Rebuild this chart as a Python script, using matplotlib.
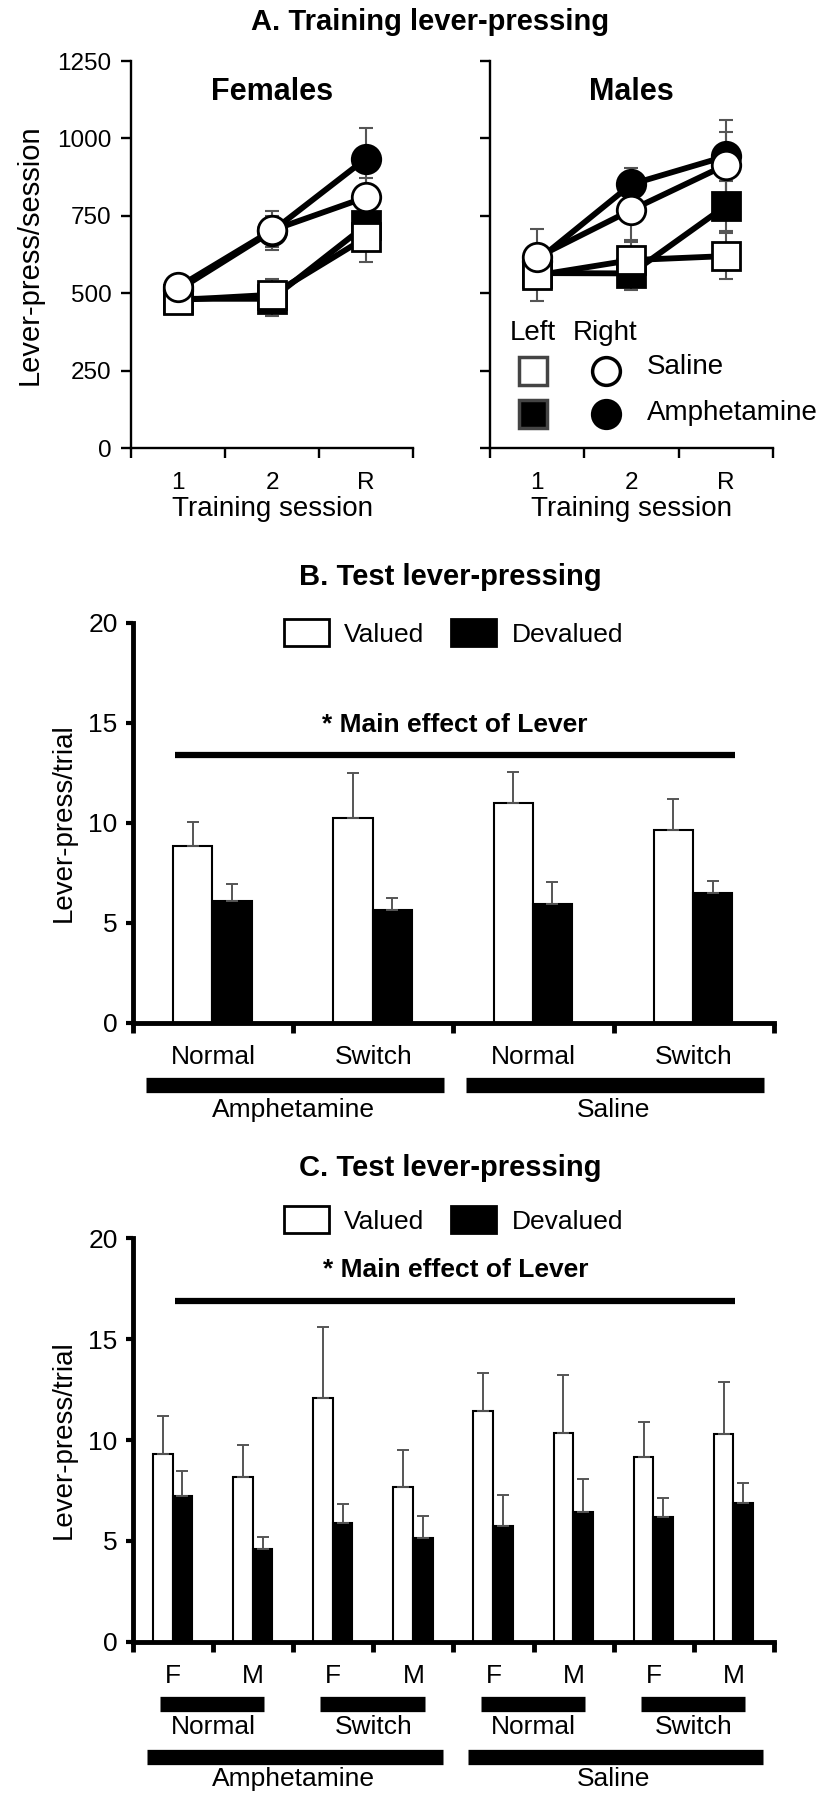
import matplotlib
matplotlib.use('Agg')
from matplotlib import pyplot as plt
from matplotlib.patches import Patch
import numpy as np

plt.rcParams['font.family'] = ['Liberation Sans', 'DejaVu Sans']

# ---- Panel A: training lever-pressing ----
sessions = ['1', '2', 'R']

fem_sal_right = [520, 703, 810]
fem_sal_right_sem = [35, 62, 62]
fem_amph_right = [510, 700, 935]
fem_amph_right_sem = [30, 50, 100]
fem_sal_left = [478, 495, 680]
fem_sal_left_sem = [25, 50, 78]
fem_amph_left = [482, 482, 720]
fem_amph_left_sem = [25, 55, 60]

male_sal_right = [616, 769, 914]
male_sal_right_sem = [93, 97, 108]
male_amph_right = [605, 852, 942]
male_amph_right_sem = [40, 51, 118]
male_sal_left = [558, 607, 620]
male_sal_left_sem = [83, 60, 75]
male_amph_left = [565, 564, 782]
male_amph_left_sem = [40, 54, 82]

# ---- Panel B: test lever-pressing by group ----
b_groups = ['Normal', 'Switch', 'Normal', 'Switch']
b_drugs = ['Amphetamine', 'Saline']
b_valued = [8.85, 10.25, 11.0, 9.67]
b_valued_sem = [1.2, 2.25, 1.53, 1.55]
b_devalued = [6.1, 5.63, 5.97, 6.5]
b_devalued_sem = [0.83, 0.64, 1.06, 0.58]

# ---- Panel C: test lever-pressing by group and sex ----
c_sex = ['F', 'M', 'F', 'M', 'F', 'M', 'F', 'M']
c_groups = ['Normal', 'Switch', 'Normal', 'Switch']
c_drugs = ['Amphetamine', 'Saline']
c_valued = [9.33, 8.17, 12.07, 7.65, 11.43, 10.34, 9.15, 10.31]
c_valued_sem = [1.87, 1.58, 3.53, 1.85, 1.87, 2.89, 1.75, 2.57]
c_devalued = [7.23, 4.62, 5.9, 5.16, 5.72, 6.42, 6.18, 6.88]
c_devalued_sem = [1.22, 0.56, 0.94, 1.09, 1.56, 1.63, 0.94, 0.98]

ERR = '#555555'


def training_panel(ax, series, title, show_labels):
    x = np.arange(1, len(sessions) + 1)
    z = 3
    for vals, sem, marker, face in series:
        ax.errorbar(x, vals, yerr=sem, fmt='none', ecolor=ERR, elinewidth=1.5,
                    capsize=5, capthick=1.5, zorder=1)
        ax.plot(x, vals, color='black', lw=4.2, zorder=z)
        ax.plot(x, vals, linestyle='none', marker=marker, ms=20.5, mfc=face,
                mec='black', mew=2, zorder=z + 1)
        z += 2
    ax.set_xlim(0.5, 3.5)
    ax.set_ylim(0, 1250)
    ax.set_yticks([0, 250, 500, 750, 1000, 1250])
    ax.set_xticks([0.5, 1.5, 2.5, 3.5])
    ax.set_xticklabels([])
    ax.set_xticks(x, minor=True)
    ax.set_xticklabels(sessions, minor=True)
    ax.tick_params(axis='x', which='minor', length=0, pad=17, labelsize=17.5)
    ax.tick_params(axis='both', which='major', length=7, width=1.7, labelsize=17.5)
    ax.tick_params(axis='y', pad=7)
    if not show_labels:
        ax.set_yticklabels([])
    for s in ['top', 'right']:
        ax.spines[s].set_visible(False)
    for s in ['left', 'bottom']:
        ax.spines[s].set_linewidth(1.7)
    ax.set_xlabel('Training session', fontsize=20, labelpad=2)
    ax.text(0.5, 0.92, title, transform=ax.transAxes, ha='center', va='center',
            fontsize=22, fontweight='bold')


def bar_panel(ax, valued, vsem, deval, dsem, line_y, line_x):
    n = len(valued)
    x = np.arange(n)
    ekw = dict(ecolor=ERR, elinewidth=1.4, capsize=4, capthick=1.4)
    ax.bar(x + 0.3725, valued, 0.245, color='white', edgecolor='black', lw=1.5,
           yerr=[np.zeros(n), vsem], error_kw=ekw)
    ax.bar(x + 0.6175, deval, 0.245, color='black', edgecolor='black', lw=1.5,
           yerr=[np.zeros(n), dsem], error_kw=ekw)
    ax.set_xlim(0, n)
    ax.set_ylim(0, 20)
    ax.set_yticks([0, 5, 10, 15, 20])
    ax.set_xticks(np.arange(n + 1))
    ax.set_xticklabels([])
    ax.tick_params(axis='x', length=7, width=3.5)
    ax.tick_params(axis='y', length=5, width=3, labelsize=19, pad=6)
    for s in ['top', 'right']:
        ax.spines[s].set_visible(False)
    for s in ['left', 'bottom']:
        ax.spines[s].set_linewidth(3.5)
    ax.set_ylabel('Lever-press/trial', fontsize=20, labelpad=8)
    # significance line
    ax.plot(line_x, [line_y, line_y], color='black', lw=4.5, solid_capstyle='butt')
    ax.text(np.mean(line_x), line_y + 1.5, '* Main effect of Lever', ha='center',
            va='center', fontsize=19, fontweight='bold')
    handles = [Patch(facecolor='white', edgecolor='black', lw=2, label='Valued'),
               Patch(facecolor='black', edgecolor='black', lw=2, label='Devalued')]
    return handles


fig = plt.figure(figsize=(8.27, 18), dpi=100)

axA1 = fig.add_axes([0.1584, 0.7511, 0.341, 0.215])
axA2 = fig.add_axes([0.5925, 0.7511, 0.342, 0.215])
axB = fig.add_axes([0.1608, 0.4317, 0.775, 0.2222])
axC = fig.add_axes([0.1608, 0.0878, 0.775, 0.2244])

training_panel(axA1, [
    (fem_amph_left, fem_amph_left_sem, 's', 'black'),
    (fem_amph_right, fem_amph_right_sem, 'o', 'black'),
    (fem_sal_left, fem_sal_left_sem, 's', 'white'),
    (fem_sal_right, fem_sal_right_sem, 'o', 'white'),
], 'Females', True)
axA1.set_ylabel('Lever-press/session', fontsize=21, labelpad=10)

training_panel(axA2, [
    (male_amph_left, male_amph_left_sem, 's', 'black'),
    (male_amph_right, male_amph_right_sem, 'o', 'black'),
    (male_sal_left, male_sal_left_sem, 's', 'white'),
    (male_sal_right, male_sal_right_sem, 'o', 'white'),
], 'Males', False)

# hand-made legend inside the male panel
axA2.text(0.95, 372, 'Left', ha='center', va='center', fontsize=20)
axA2.text(1.72, 372, 'Right', ha='center', va='center', fontsize=20)
axA2.plot([0.956], [250], marker='s', ms=20, mfc='white', mec='#444444', mew=2.5)
axA2.plot([1.73], [250], marker='o', ms=20, mfc='white', mec='black', mew=2.5)
axA2.plot([0.956], [110], marker='s', ms=20, mfc='black', mec='#444444', mew=2.5)
axA2.plot([1.73], [110], marker='o', ms=20, mfc='black', mec='black', mew=2.5)
axA2.text(2.16, 262, 'Saline', ha='left', va='center', fontsize=20)
axA2.text(2.16, 112, 'Amphetamine', ha='left', va='center', fontsize=20, clip_on=False)

fig.text(0.52, 1 - 22 / 1800, 'A. Training lever-pressing', ha='center', va='center',
         fontsize=21, fontweight='bold')

# ---- B ----
hB = bar_panel(axB, b_valued, b_valued_sem, b_devalued, b_devalued_sem,
               13.4, [0.26, 3.76])
axB.legend(handles=hB, loc='center', bbox_to_anchor=(0.5, 0.975), ncol=2, frameon=False,
           fontsize=19, handlelength=1.7, handleheight=1.2, handletextpad=0.6,
           columnspacing=1.0)
trB = axB.get_xaxis_transform()
for i, g in enumerate(b_groups):
    axB.text(i + 0.5, -0.085, g, transform=trB, ha='center', va='center', fontsize=19)
for j, d in enumerate(b_drugs):
    axB.plot([2 * j + 0.08, 2 * j + 1.94], [-0.155, -0.155], transform=trB, color='black',
             lw=11, solid_capstyle='butt', clip_on=False)
    axB.text(2 * j + 1.0, -0.218, d, transform=trB, ha='center', va='center', fontsize=19)
fig.text(0.545, 1 - 577 / 1800, 'B. Test lever-pressing', ha='center', va='center',
         fontsize=21, fontweight='bold')

# ---- C ----
hC = bar_panel(axC, c_valued, c_valued_sem, c_devalued, c_devalued_sem,
               16.9, [0.53, 7.52])
axC.legend(handles=hC, loc='center', bbox_to_anchor=(0.5, 1.045), ncol=2, frameon=False,
           fontsize=19, handlelength=1.7, handleheight=1.2, handletextpad=0.6,
           columnspacing=1.0)
trC = axC.get_xaxis_transform()
for i, s in enumerate(c_sex):
    axC.text(i + 0.5, -0.084, s, transform=trC, ha='center', va='center', fontsize=19)
for j, g in enumerate(c_groups):
    axC.plot([2 * j + 0.34, 2 * j + 1.64], [-0.153, -0.153], transform=trC, color='black',
             lw=11, solid_capstyle='butt', clip_on=False)
    axC.text(2 * j + 1.0, -0.21, g, transform=trC, ha='center', va='center', fontsize=19)
for j, d in enumerate(c_drugs):
    axC.plot([4 * j + 0.18, 4 * j + 3.87], [-0.285, -0.285], transform=trC, color='black',
             lw=11, solid_capstyle='butt', clip_on=False)
    axC.text(4 * j + 2.0, -0.34, d, transform=trC, ha='center', va='center', fontsize=19)
fig.text(0.545, 1 - 1168 / 1800, 'C. Test lever-pressing', ha='center', va='center',
         fontsize=21, fontweight='bold')

plt.savefig('out.png', dpi=100)
